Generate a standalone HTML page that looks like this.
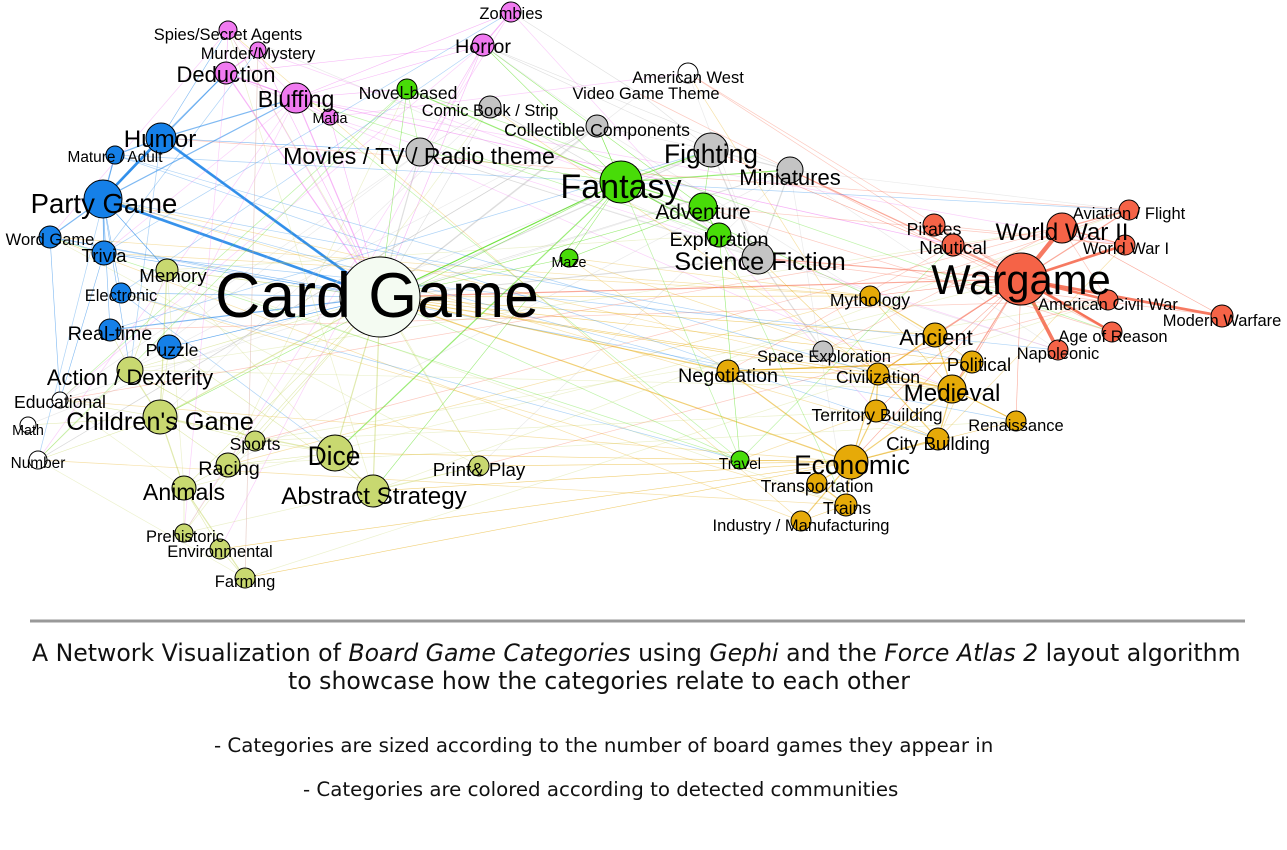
<!DOCTYPE html>
<html><head><meta charset="utf-8"><style>
html,body{margin:0;padding:0;background:#fff;width:1287px;height:850px;overflow:hidden}
svg{display:block}
text{font-family:"Liberation Sans",Arial,sans-serif;fill:#000;text-anchor:middle}
.cap{font-family:"DejaVu Sans","Liberation Sans",sans-serif;position:absolute;white-space:nowrap;color:#111}
</style></head><body>
<svg id="g" width="1287" height="850" xmlns="http://www.w3.org/2000/svg">
<g id="edges"></g>
<g id="nodes"></g>
<g id="labels">
<text x="511" y="19" font-size="15">Zombies</text>
<text x="228" y="40" font-size="15">Spies/Secret Agents</text>
<text x="258" y="59" font-size="15">Murder/Mystery</text>
<text x="483" y="53" font-size="18">Horror</text>
<text x="226" y="82" font-size="20">Deduction</text>
<text x="296" y="107" font-size="21">Bluffing</text>
<text x="330" y="123" font-size="13">Mafia</text>
<text x="408" y="99" font-size="16">Novel-based</text>
<text x="688" y="83" font-size="15">American West</text>
<text x="646" y="99" font-size="15">Video Game Theme</text>
<text x="490" y="116" font-size="15">Comic Book / Strip</text>
<text x="597" y="136" font-size="16">Collectible Components</text>
<text x="419" y="164" font-size="21">Movies / TV / Radio theme</text>
<text x="711" y="163" font-size="24">Fighting</text>
<text x="790" y="185" font-size="20">Miniatures</text>
<text x="621" y="198" font-size="31">Fantasy</text>
<text x="703" y="219" font-size="19">Adventure</text>
<text x="719" y="246" font-size="18">Exploration</text>
<text x="569" y="267" font-size="13">Maze</text>
<text x="760" y="270" font-size="23">Science Fiction</text>
<text x="160" y="147" font-size="22">Humor</text>
<text x="115" y="162" font-size="14">Mature / Adult</text>
<text x="104" y="213" font-size="25">Party Game</text>
<text x="50" y="245" font-size="15">Word Game</text>
<text x="104" y="262" font-size="17">Trivia</text>
<text x="121" y="301" font-size="15">Electronic</text>
<text x="110" y="340" font-size="18">Real-time</text>
<text x="172" y="356" font-size="16">Puzzle</text>
<text x="173" y="282" font-size="17">Memory</text>
<text x="130" y="385" font-size="20">Action / Dexterity</text>
<text x="60" y="408" font-size="16">Educational</text>
<text x="28" y="435" font-size="13">Math</text>
<text x="38" y="468" font-size="14">Number</text>
<text x="160" y="430" font-size="23">Children's Game</text>
<text x="255" y="450" font-size="16">Sports</text>
<text x="229" y="475" font-size="18">Racing</text>
<text x="334" y="465" font-size="24">Dice</text>
<text x="374" y="504" font-size="22">Abstract Strategy</text>
<text x="479" y="476" font-size="17">Print&amp; Play</text>
<text x="184" y="500" font-size="21">Animals</text>
<text x="185" y="542" font-size="15">Prehistoric</text>
<text x="220" y="557" font-size="15">Environmental</text>
<text x="245" y="587" font-size="15">Farming</text>
<text x="377" y="317" font-size="57">Card Game</text>
<text x="740" y="469" font-size="14">Travel</text>
<text x="870" y="306" font-size="16">Mythology</text>
<text x="936" y="345" font-size="20">Ancient</text>
<text x="979" y="371" font-size="17">Political</text>
<text x="728" y="382" font-size="18">Negotiation</text>
<text x="824" y="362" font-size="15">Space Exploration</text>
<text x="878" y="383" font-size="16">Civilization</text>
<text x="952" y="401" font-size="22">Medieval</text>
<text x="877" y="421" font-size="16">Territory Building</text>
<text x="1016" y="431" font-size="15">Renaissance</text>
<text x="938" y="450" font-size="17">City Building</text>
<text x="852" y="474" font-size="24">Economic</text>
<text x="817" y="492" font-size="16">Transportation</text>
<text x="847" y="514" font-size="16">Trains</text>
<text x="801" y="531" font-size="15">Industry / Manufacturing</text>
<text x="934" y="235" font-size="16">Pirates</text>
<text x="953" y="254" font-size="17">Nautical</text>
<text x="1062" y="240" font-size="22">World War II</text>
<text x="1129" y="219" font-size="15">Aviation / Flight</text>
<text x="1126" y="254" font-size="15">World War I</text>
<text x="1021" y="294" font-size="38">Wargame</text>
<text x="1108" y="310" font-size="15">American Civil War</text>
<text x="1113" y="342" font-size="15">Age of Reason</text>
<text x="1222" y="326" font-size="15">Modern Warfare</text>
<text x="1058" y="359" font-size="15">Napoleonic</text>
</g>
<line x1="30" y1="621" x2="1245" y2="621" stroke="#999" stroke-width="3"/>
</svg>
<div class="cap" style="top:639px;left:32px;font-size:23.6px">A Network Visualization of <i>Board Game Categories</i> using <i>Gephi</i> and the <i>Force Atlas 2</i> layout algorithm</div>
<div class="cap" style="top:667px;left:288px;font-size:23.6px">to showcase how the categories relate to each other</div>
<div class="cap" style="top:734px;left:214px;font-size:19.8px">- Categories are sized according to the number of board games they appear in</div>
<div class="cap" style="top:778px;left:303px;font-size:19.8px">- Categories are colored according to detected communities</div>
<script>
document.querySelectorAll("#labels text").forEach(function(t){var f=parseFloat(t.getAttribute("font-size"));t.setAttribute("font-size",(f*1.1).toFixed(1));});
var P="#f07af0",B="#1580e8",L="#c8d870",W="#f4fbf2",G="#c4c4c4",N="#48dc08",O="#e6aa08",R="#f56347";
var n={
zom:[511,12,10,P],spy:[228,30,9,P],mur:[258,50,8,P],hor:[483,45,11,P],ded:[226,73,11,P],blu:[296,98,15,P],maf:[330,117,8,P],
hum:[161,138,15,B],mat:[115,155,9,B],par:[103,199,19,B],wor:[50,237,11,B],tri:[104,253,12,B],ele:[121,293,10,B],rea:[110,330,11,B],puz:[169,347,12,B],
mem:[167,270,11,L],act:[130,370,13,L],chi:[160,417,17,L],spo:[255,441,10,L],rac:[228,465,12,L],dic:[335,453,18,L],abs:[373,491,16,L],pri:[479,466,10,L],ani:[184,488,12,L],pre:[184,533,9,L],env:[220,549,10,L],far:[245,578,10,L],
car:[380,297,40,W],edu:[60,400,8,"#fff"],mat2:[28,425,8,"#fff"],num:[38,460,9,"#fff"],amw:[688,73,10,"#fff"],
mov:[420,152,14,G],com:[490,107,11,G],col:[597,126,11,G],vid:[640,94,0,G],fig:[711,150,17,G],min:[790,170,13,G],sci:[758,258,16,G],spa:[823,351,10,G],
nov:[407,89,10,N],fan:[621,182,21,N],adv:[703,207,14,N],exp:[719,235,12,N],maz:[569,258,9,N],tra:[740,460,9,N],
myt:[870,296,10,O],anc:[935,335,12,O],pol:[972,362,11,O],neg:[728,371,11,O],civ:[878,374,11,O],med:[952,389,14,O],ter:[876,411,11,O],ren:[1016,421,10,O],cit:[938,439,11,O],eco:[851,462,17,O],trn:[817,483,10,O],trai:[846,505,11,O],ind:[801,521,10,O],
pir:[934,225,11,R],nau:[953,245,11,R],ww2:[1062,228,15,R],avi:[1129,210,10,R],ww1:[1125,245,10,R],war:[1021,279,26,R],acw:[1108,300,10,R],age:[1112,332,10,R],mod:[1222,316,11,R],nap:[1058,350,10,R]};
var keys=Object.keys(n);
var E=[
["war","ww2",5],["war","nap",4],["war","acw",3],["war","age",3],["war","mod",3],["war","ww1",3],["war","avi",2],["ww2","avi",2],["ww2","ww1",2],["war","pir",1],["war","nau",2],["war","anc",2],["war","med",2],["war","pol",1],["war","myt",1],["war","ren",1],["war","sci",2],["war","min",2],["war","fig",1],["war","car",2],["ww2","mod",1],["war","civ",1],["war","ter",1],["war","eco",1],
["par","hum",3],["par","car",3],["par","tri",2],["par","wor",2],["par","mat",2],["par","ele",1],["par","rea",1],["par","mem",1],["par","act",1],["par","blu",2],["par","ded",1],["hum","car",3],["hum","blu",2],["hum","ded",2],["hum","mov",1],["hum","mat",2],["hum","spy",1],["tri","car",1],["wor","car",1],["wor","tri",1],["rea","car",2],["puz","car",1],["ele","car",1],["mem","car",1],["tri","edu",1],["wor","edu",1],
["car","blu",2],["car","ded",2],["car","maf",1],["car","hor",1],["car","spy",1],["car","mur",1],["car","mov",2],["car","fan",2],["car","col",2],["car","fig",2],["car","sci",2],["car","adv",1],["car","dic",2],["car","abs",2],["car","chi",2],["car","act",1],["car","ani",1],["car","neg",2],["car","eco",2],["car","myt",1],["car","med",1],["car","anc",1],["car","com",1],["car","nov",1],["car","maz",1],["car","pri",1],["car","spo",1],["car","rac",1],["car","civ",1],["car","pol",1],["car","min",1],
["fan","adv",2],["fan","exp",2],["fan","fig",2],["fan","min",2],["fan","sci",1],["fan","nov",2],["fan","hor",1],["fan","dic",2],["fan","maz",1],["fan","myt",1],["fan","col",1],["fan","mov",1],["adv","exp",2],["adv","fig",1],["adv","hor",1],["exp","tra",1],["exp","sci",1],["adv","maz",1],["fan","chi",1],["fan","abs",1],
["fig","min",2],["fig","sci",2],["min","sci",2],["sci","spa",2],["fig","vid",1],["col","fig",1],["com","mov",1],["min","hor",1],["fig","hor",1],["mov","sci",1],["vid","zom",1],["hor","zom",2],["hor","mov",1],["hor","blu",1],["hor","ded",1],["zom","blu",1],["spy","ded",1],["mur","ded",2],["ded","blu",2],["blu","maf",1],["blu","nov",1],
["chi","act",2],["chi","mem",2],["chi","ani",2],["chi","dic",2],["chi","rac",1],["chi","spo",1],["chi","puz",1],["act","mem",1],["act","spo",1],["ani","far",2],["ani","pre",1],["ani","env",1],["dic","abs",2],["dic","rac",1],["dic","spo",1],["abs","pri",1],["abs","puz",1],["act","rea",1],["ani","rac",1],["env","far",1],["chi","edu",1],["chi","num",1],["chi","mat2",1],
["eco","neg",2],["eco","trn",2],["eco","trai",2],["eco","ind",2],["eco","cit",2],["eco","ter",2],["eco","med",2],["eco","civ",2],["eco","ren",1],["med","anc",2],["med","pol",2],["med","ren",2],["med","cit",2],["med","civ",2],["anc","civ",2],["anc","myt",2],["pol","neg",2],["civ","ter",2],["civ","cit",2],["ter","cit",1],["anc","pol",1],["neg","pol",2],["neg","civ",1],["trn","trai",2],["ind","trai",1],["eco","pri",1],["eco","dic",1],["eco","far",1],["eco","env",1],["eco","abs",1],["eco","tra",1],["neg","med",1],["civ","sci",1],["spa","civ",1],["myt","med",1]
];
var s="";
E.forEach(function(e){var a=n[e[0]],b=n[e[1]];var c=a[3]=="#fff"||a[3]==W?b[3]:a[3];
s+='<line x1="'+a[0]+'" y1="'+a[1]+'" x2="'+b[0]+'" y2="'+b[1]+'" stroke="'+c+'" stroke-opacity="'+(e[2]>2?0.85:0.55)+'" stroke-width="'+(e[2]>2?e[2]*0.9:e[2]*0.6)+'"/>';});
var seed=7;function rnd(){seed=(seed*9301+49297)%233280;return seed/233280;}
for(var i=0;i<140;i++){var a=n[keys[Math.floor(rnd()*keys.length)]],b=n[keys[Math.floor(rnd()*keys.length)]];if(a===b)continue;var c=a[3]=="#fff"||a[3]==W?b[3]:a[3];
s+='<line x1="'+a[0]+'" y1="'+a[1]+'" x2="'+b[0]+'" y2="'+b[1]+'" stroke="'+c+'" stroke-opacity="0.35" stroke-width="0.7"/>';}
document.getElementById("edges").innerHTML=s;
var t="";keys.forEach(function(k){var a=n[k];if(a[2]>0)t+='<circle cx="'+a[0]+'" cy="'+a[1]+'" r="'+a[2]+'" fill="'+a[3]+'" stroke="#000" stroke-width="1"/>';});
document.getElementById("nodes").innerHTML=t;
</script>
</body></html>
